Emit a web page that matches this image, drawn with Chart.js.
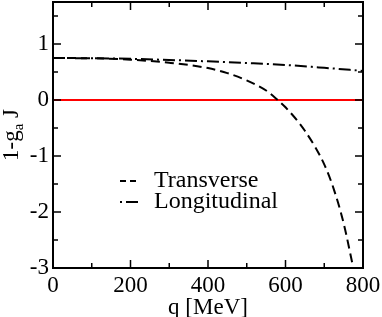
<!DOCTYPE html>
<html>
<head>
<meta charset="utf-8">
<script src="https://cdn.jsdelivr.net/npm/chart.js@4.4.1/dist/chart.umd.min.js"></script>
<style>
  html, body { margin: 0; padding: 0; background: #fff; }
  #wrap { width: 382px; height: 317px; }
</style>
</head>
<body>
<div id="wrap"><canvas id="myChart"></canvas></div>
<script>
// values
const qTrans = [0, 100, 200, 300, 400, 450, 500, 550, 580, 600, 650, 700, 725, 750, 775];
const transverse = [0.75, 0.745, 0.72, 0.665, 0.57, 0.48, 0.35, 0.17, 0.0, -0.13, -0.55, -1.15, -1.6, -2.2, -3.0];
const qLong = [0, 100, 200, 300, 400, 500, 600, 700, 800];
const longitudinal = [0.75, 0.745, 0.735, 0.715, 0.69, 0.66, 0.625, 0.575, 0.52];
const qZero = [0, 800];
const zeroLine = [0, 0];
const xTicks = [0, 200, 400, 600, 800];
const yTicks = [-3, -2, -1, 0, 1];
const legendLabels = ["Transverse", "Longitudinal"];

const FONT = "Liberation Serif, Times New Roman, serif";

function pts(xs, ys) {
  return xs.map((x, i) => ({ x: x, y: ys[i] }));
}

// frame, inward ticks on all sides, y title with subscript, legend
const decor = {
  id: "decor",
  afterDraw(chart) {
    const ctx = chart.ctx;
    const a = chart.chartArea;
    const xs = chart.scales.x;
    const ys = chart.scales.y;
    ctx.save();
    ctx.strokeStyle = "#000";
    ctx.lineWidth = 2;
    ctx.setLineDash([]);
    ctx.strokeRect(a.left, a.top, a.right - a.left, a.bottom - a.top);

    ctx.lineWidth = 1.5;
    ctx.beginPath();
    for (let v = 0; v <= 800; v += 100) {
      const px = xs.getPixelForValue(v);
      const len = v % 200 === 0 ? 8 : 5;
      ctx.moveTo(px, a.bottom); ctx.lineTo(px, a.bottom - len);
      ctx.moveTo(px, a.top); ctx.lineTo(px, a.top + len);
    }
    for (let v = -3; v <= 1.5; v += 0.5) {
      const py = ys.getPixelForValue(v);
      const len = Number.isInteger(v) ? 8 : 5;
      ctx.moveTo(a.left, py); ctx.lineTo(a.left + len, py);
      ctx.moveTo(a.right, py); ctx.lineTo(a.right - len, py);
    }
    ctx.stroke();

    // y axis title "1-g_a J"
    ctx.fillStyle = "#000";
    ctx.textBaseline = "alphabetic";
    const big = "23px " + FONT;
    const small = "15px " + FONT;
    ctx.font = big;
    const w1 = ctx.measureText("1-g").width;
    const w3 = ctx.measureText(" J").width;
    ctx.font = small;
    const w2 = ctx.measureText("a").width;
    const total = w1 + w2 + w3;
    ctx.translate(18, (a.top + a.bottom) / 2);
    ctx.rotate(-Math.PI / 2);
    let x0 = -total / 2;
    ctx.font = big;
    ctx.fillText("1-g", x0, 0);
    ctx.font = small;
    ctx.fillText("a", x0 + w1, 5);
    ctx.font = big;
    ctx.fillText(" J", x0 + w1 + w2, 0);
    ctx.setTransform(1, 0, 0, 1, 0, 0);

    // legend
    const rows = [
      { y: 181, ds: chart.data.datasets[0], dash: [6, 4] },
      { y: 202, ds: chart.data.datasets[1], dash: [2, 4, 12, 4] }
    ];
    ctx.font = "24px " + FONT;
    ctx.textBaseline = "middle";
    rows.forEach((r, i) => {
      ctx.strokeStyle = r.ds.borderColor;
      ctx.lineWidth = 2;
      ctx.setLineDash(r.dash);
      ctx.beginPath();
      ctx.moveTo(120, r.y);
      ctx.lineTo(138, r.y);
      ctx.stroke();
      ctx.setLineDash([]);
      ctx.fillText(legendLabels[i], 154, r.y);
    });
    ctx.restore();
  }
};

const ctx = document.getElementById("myChart");
const myChart = new Chart(ctx, {
  type: "scatter",
  data: {
    datasets: [
      {
        label: legendLabels[0],
        data: pts(qTrans, transverse),
        showLine: true,
        borderColor: "#000",
        borderWidth: 2,
        borderDash: [9, 5],
        pointRadius: 0,
        cubicInterpolationMode: "monotone",
      },
      {
        label: legendLabels[1],
        data: pts(qLong, longitudinal),
        showLine: true,
        borderColor: "#000",
        borderWidth: 2,
        borderDash: [12, 4, 2, 4],
        pointRadius: 0,
        cubicInterpolationMode: "monotone",
      },
      {
        label: "zero",
        data: pts(qZero, zeroLine),
        showLine: true,
        borderColor: "#ff0000",
        borderWidth: 2,
        pointRadius: 0,
      },
    ],
  },
  options: {
    responsive: true,
    maintainAspectRatio: false,
    animation: false,
    layout: { padding: { top: 2, right: 19, left: 0, bottom: 0 } },
    plugins: {
      legend: { display: false },
      tooltip: { enabled: false },
    },
    scales: {
      x: {
        type: "linear",
        min: 0,
        max: 800,
        grid: { display: false, drawTicks: false },
        border: { display: false },
        afterBuildTicks: (s) => { s.ticks = xTicks.map((v) => ({ value: v })); },
        afterFit: (s) => {
          s.height = 49;
          s.paddingLeft = 0;
          s.paddingRight = 0;
        },
        ticks: {
          color: "#000",
          padding: 4,
          maxRotation: 0,
          font: { family: FONT, size: 23 },
        },
        title: {
          display: true,
          text: "q [MeV]",
          color: "#000",
          padding: { top: 0, bottom: -5 },
          font: { family: FONT, size: 23 },
        },
      },
      y: {
        type: "linear",
        min: -3,
        max: 1.75,
        grid: { display: false, drawTicks: false },
        border: { display: false },
        afterBuildTicks: (s) => { s.ticks = yTicks.map((v) => ({ value: v })); },
        afterFit: (s) => {
          s.width = 53;
          s.paddingTop = 0;
          s.paddingBottom = 0;
        },
        ticks: {
          color: "#000",
          padding: 4,
          font: { family: FONT, size: 23 },
        },
      },
    },
  },
  plugins: [decor],
});
</script>
</body>
</html>
